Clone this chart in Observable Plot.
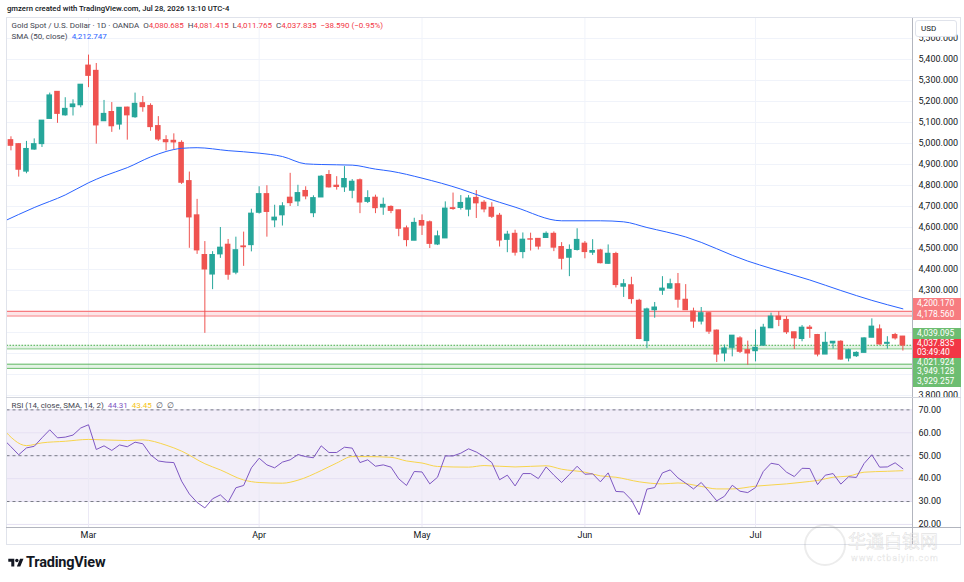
<!DOCTYPE html>
<html><head><meta charset="utf-8">
<script src="https://cdn.jsdelivr.net/npm/d3@7"></script>
<script src="https://cdn.jsdelivr.net/npm/@observablehq/plot@0.6"></script>
<style>
html,body{margin:0;padding:0;background:#fff;}
#root{position:relative;width:964px;height:582px;overflow:hidden;font-family:Roboto,"Liberation Sans",sans-serif;color:#131722;background:#fff;}
.a{position:absolute;white-space:nowrap;line-height:1;}
#price,#rsi{position:absolute;left:0;}
#price{top:17px;} #rsi{top:397px;}
svg{display:block;}
.tag{position:absolute;left:913px;width:48px;color:#fff;font-size:8.5px;padding-left:4px;box-sizing:border-box;display:flex;flex-direction:column;justify-content:center;line-height:1.1;}
</style></head><body>
<div id="root">
 <div id="price"></div>
 <div id="rsi"></div>
 <div id="overlay"></div>
</div>
<script>
// ---------- data ----------
const monthLabels = ["Mar","Apr","May","Jun","Jul"];
const monthIdx = [10,32,53,74,96];

const open = [5016,4997,4866,4971,4997,5117,5246,5134,5173,5182,
5371,5346,5106,5150,5090,5171,5125,5192,5179,5083,
5016,5013,5003,4821,4658,4469,4376,4472,4518,4385,
4510,4516,4670,4759,4634,4658,4742,4724,4774,4668,
4743,4850,4799,4791,4775,4825,4722,4742,4695,4698,
4682,4596,4537,4631,4625,4519,4548,4692,4693,4685,
4741,4718,4694,4656,4541,4570,4483,4544,4546,4550,
4570,4507,4456,4493,4523,4480,4491,4427,4474,4318,
4325,4251,4059,4206,4299,4309,4330,4256,4200,4152,
4192,4109,4000,4027,4072,4016,4011,4037,4120,4176,
4160,4101,4069,4123,4088,3995,4048,4056,3976,3987,
4003,4075,4115,4046,4088,4080.685];
const high = [5032,4999,5010,5022,5109,5240,5246,5218,5208,5280,
5421,5381,5205,5195,5170,5173,5240,5224,5189,5128,
5037,5046,5013,4864,4734,4533,4485,4600,4543,4554,
4578,4687,4794,4799,4706,4718,4858,4801,4794,4751,
4847,4871,4842,4890,4828,4831,4775,4754,4740,4703,
4682,4607,4644,4660,4631,4583,4722,4764,4752,4752,
4776,4728,4718,4667,4582,4587,4574,4573,4546,4579,
4579,4528,4517,4594,4533,4542,4496,4517,4482,4352,
4363,4258,4216,4243,4366,4354,4381,4328,4216,4219,
4195,4112,4040,4085,4080,4059,4112,4139,4192,4200,
4176,4101,4133,4133,4091,4101,4056,4061,4021,4008,
4075,4165,4136,4080,4096,4081.415];
const low = [4965,4840,4856,4968,4981,5117,5096,5130,5131,5170,
5266,4997,5106,5053,5064,5016,5120,5149,5058,5010,
4965,4971,4805,4501,4472,4096,4304,4453,4349,4375,
4415,4484,4664,4554,4599,4607,4700,4700,4732,4647,
4743,4788,4778,4767,4737,4666,4714,4666,4658,4666,
4556,4508,4537,4562,4500,4514,4548,4682,4683,4651,
4643,4670,4643,4507,4480,4464,4451,4488,4493,4550,
4485,4398,4366,4488,4451,4467,4427,4424,4312,4267,
4235,4066,4024,4168,4277,4305,4216,4206,4120,4136,
4091,3957,3960,3984,4000,3944,3960,4037,4120,4128,
4091,4019,4056,4072,3984,3995,4021,3968,3960,3981,
4003,4075,4040,4021,4064,4011.765];
const close = [4989,4875,4974,4997,5109,5229,5141,5165,5186,5280,
5322,5086,5141,5082,5170,5134,5189,5173,5078,5019,
5006,5005,4813,4648,4491,4400,4469,4504,4375,4492,
4506,4666,4759,4674,4647,4701,4716,4764,4748,4740,
4842,4791,4793,4831,4818,4719,4740,4692,4708,4679,
4594,4540,4622,4609,4522,4558,4690,4688,4717,4738,
4715,4686,4651,4538,4566,4480,4542,4542,4509,4570,
4504,4451,4493,4541,4483,4488,4430,4475,4326,4330,
4259,4069,4210,4219,4309,4330,4256,4206,4152,4192,
4104,3995,4024,4085,4008,4000,4027,4123,4176,4160,
4101,4072,4123,4117,3995,4051,4056,3971,4016,4003,
4072,4128,4043,4051,4072,4037.835];

// SMA(50) read at sample bars
const smaIdx = [-1,3,7,10,12,15,18,20,22,24,28,32,35,38,40,44,47,49,53,58,61,65,71,76,79,82,87,95,98,103,107,111,115];
const smaVal = [4628,4695,4755,4813,4845,4885,4936,4962,4977,4980,4966,4954,4938,4903,4900,4897,4878,4868,4835,4783,4744,4697,4632,4632,4627,4600,4555,4440,4405,4350,4300,4253,4212.747];

// RSI(14) values, first value belongs to bar -1 (left edge)
const rsiFirstIdx = -1;
const rsiVal = [57.3,53.9,50.4,53.4,54.1,57.8,61.3,57.8,58.1,59.0,62.1,
63.5,52.7,54.3,52.3,54.7,53.9,55.9,55.2,50.4,47.7,
47.2,47.0,38.9,33.3,29.6,27.2,31.2,32.9,29.7,36.0,
37.0,44.7,48.9,46.0,44.7,47.2,48.2,50.5,49.6,49.1,
54.3,51.4,51.4,53.7,53.3,47.0,48.2,45.4,46.0,45.0,
39.9,37.0,43.1,42.9,37.7,40.6,49.9,49.9,51.1,53.0,
51.6,49.6,47.0,39.5,41.5,36.8,42.2,42.2,40.0,45.1,
41.5,38.3,41.8,45.4,41.9,42.1,38.6,42.5,34.4,34.2,
30.7,24.2,35.4,36.1,42.5,43.8,40.3,38.0,35.5,38.3,
34.4,30.3,32.3,37.1,34.5,33.9,36.1,43.1,46.7,46.1,
42.8,40.9,44.5,44.4,37.4,41.5,42.2,37.6,40.8,40.5,
46.6,50.4,45.0,45.1,46.9,44.31];
const rsiSmaIdx = [-1,2,4,7,10,15,17,20,22,25,27,30,32,35,37,40,42,44,46,49,51,53,55,59,61,65,69,71,74,76,78,81,84,86,89,91,93,96,100,102,104,106,108,110,113,115];
const rsiSmaVal = [61.5,54.4,55.6,56.3,57.1,56.6,56.9,54.6,52.0,46.5,43.8,39.4,38.3,38.0,39.3,43.5,46.8,49.6,49.6,49.3,47.7,46.8,45.3,45.0,45.7,45.1,45.6,44.1,42.8,41.2,40.6,38.6,37.7,38.1,36.6,35.5,35.5,36.7,37.7,38.4,39.2,40.6,41.1,42.8,43.2,43.45];

const priceTicks = [3800,3900,4000,4100,4200,4300,4400,4500,4600,4700,4800,4900,5000,5100,5200,5300,5400,5500];
const rsiTicks = [20,30,40,50,60,70];
const rsiBands = [70,50,30];

const redZone = [4178.560, 4200.170];
const greenZone1 = [4021.924, 4039.095];
const greenZone2 = [3929.257, 3949.128];
const lastPrice = 4037.835;

// ---------- layout ----------
const FONT = 'Roboto, "Liberation Sans", sans-serif';
const UP = "#26a69a", DOWN = "#ef5350";
const W = 964, LEFT = 6.5, RIGHT = 912, PRICE_H = 380;
const xDomain = [-0.51, 116.24];
const priceDomain = [3790.5, 5600];
const rsiDomain = [18.66, 75.4];

const candles = open.map((o, i) => ({i, o, h: high[i], l: low[i], c: close[i]}));
const col = d => d.c >= d.o ? UP : DOWN;
const sma = smaIdx.map((i, k) => ({i, v: smaVal[k]}));
const rsi = rsiVal.map((v, k) => ({i: k + rsiFirstIdx, v}));
const rsiSma = rsiSmaIdx.map((i, k) => ({i, v: rsiSmaVal[k]}));
const fmt3 = d3.format(",.3f");

// tags drawn on the price axis (offsets are label placement only)
const tags = [
  {v: redZone[1], bg: "#f77c80", dy: -7.2, h: 11},
  {v: redZone[0], bg: "#f77c80", dy: -0.9, h: 10.8},
  {v: greenZone1[1], bg: "#6dbd71", dy: -11.2, h: 10.8},
  {v: lastPrice, bg: "#f23645", dy: 3.3, h: 18.7, extra: "03:49:40"},
  {v: greenZone1[0], bg: "#6dbd71", dy: 13.9, h: 9.6},
  {v: greenZone2[1], bg: "#6dbd71", dy: 7.8, h: 9.2},
  {v: greenZone2[0], bg: "#6dbd71", dy: 13.4, h: 10.8}
];
// y scale (same as plot) used to hide axis labels that sit under the tags
const yPix = d3.scaleLinear().domain(priceDomain).range([PRICE_H, 0]);
const tagSpans = tags.map(t => { const c = yPix(t.v) + t.dy; return [c - t.h / 2 - 3, c + t.h / 2 + 3]; });
const axisTicks = priceTicks.filter(p => !tagSpans.some(([a, b]) => yPix(p) > a && yPix(p) < b));

const zone = (z, fill, op) => Plot.rect([z], {x1: xDomain[0], x2: xDomain[1], y1: d => d[0], y2: d => d[1], fill, fillOpacity: op});

const priceChart = Plot.plot({
  width: W, height: PRICE_H,
  marginLeft: LEFT, marginRight: W - RIGHT, marginTop: 0, marginBottom: 0,
  x: {domain: xDomain, axis: null},
  y: {domain: priceDomain},
  color: {type: "identity"},
  style: {fontFamily: FONT, fontSize: "9px", overflow: "hidden", background: "transparent"},
  marks: [
    Plot.ruleY(priceTicks, {stroke: "#f0f3fa"}),
    Plot.ruleX(monthIdx, {stroke: "#f0f3fa"}),
    zone(redZone, "#f23645", 0.13),
    zone(greenZone1, "#4caf50", 0.15),
    zone(greenZone2, "#4caf50", 0.15),
    Plot.ruleY(redZone, {stroke: "#f77c80", strokeWidth: 1.2}),
    Plot.ruleY([greenZone1[1]], {stroke: "#4caf50", strokeDasharray: "1.5,1.5", strokeWidth: 1}),
    Plot.ruleY([greenZone1[0]], {stroke: "#66bb6a", strokeOpacity: 0.8}),
    Plot.ruleY(greenZone2, {stroke: "#4caf50", strokeOpacity: 0.85}),
    Plot.ruleX(candles, {x: "i", y1: "l", y2: "h", stroke: col, strokeWidth: 1}),
    Plot.rect(candles, {x1: d => d.i - 0.36, x2: d => d.i + 0.36, y1: "o", y2: "c", fill: col, insetTop: -0.5, insetBottom: -0.5}),
    Plot.line(sma, {x: "i", y: "v", stroke: "#2962ff", strokeWidth: 1, curve: "monotone-x", clip: true}),
    Plot.ruleX([xDomain[1]], {stroke: "#b2b5be"}),
    Plot.axisY(axisTicks, {anchor: "right", tickSize: 0, tickPadding: 6, tickFormat: fmt3, fill: "#131722", label: null})
  ]
});
document.getElementById("price").appendChild(priceChart);

const rsiChart = Plot.plot({
  width: W, height: 148,
  marginLeft: LEFT, marginRight: W - RIGHT, marginTop: 0, marginBottom: 18,
  x: {domain: xDomain},
  y: {domain: rsiDomain},
  style: {fontFamily: FONT, fontSize: "9px", overflow: "hidden", background: "transparent"},
  marks: [
    Plot.rect([[30, 70]], {x1: xDomain[0], x2: xDomain[1], y1: d => d[0], y2: d => d[1], fill: "#7e57c2", fillOpacity: 0.1}),
    Plot.ruleY(rsiTicks, {stroke: "#e6e1f3"}),
    Plot.ruleX(monthIdx, {stroke: "#ebe9f5"}),
    Plot.ruleY(rsiBands, {stroke: "#787b86", strokeDasharray: "3,3"}),
    Plot.line(rsiSma, {x: "i", y: "v", stroke: "#f7d44c", strokeWidth: 1, curve: "monotone-x", clip: true}),
    Plot.line(rsi, {x: "i", y: "v", stroke: "#7e57c2", strokeWidth: 1, clip: true}),
    Plot.ruleX([xDomain[1]], {stroke: "#b2b5be"}),
    Plot.axisY(rsiTicks, {anchor: "right", tickSize: 0, tickPadding: 6, tickFormat: d3.format(".2f"), fill: "#131722", label: null}),
    Plot.axisX(monthIdx, {tickSize: 0, tickPadding: 4, tickFormat: d => monthLabels[monthIdx.indexOf(d)], fill: "#131722", label: null})
  ]
});
document.getElementById("rsi").appendChild(rsiChart);

// ---------- overlays ----------
const ov = document.getElementById("overlay");
function add(html, style) {
  const d = document.createElement("div");
  d.className = "a";
  d.innerHTML = html;
  Object.assign(d.style, style);
  ov.appendChild(d);
  return d;
}
// frame and separators
add("", {left: "6px", top: "17px", width: "955px", height: "528px", border: "1px solid #e0e3eb", boxSizing: "border-box"});
add("", {left: "6px", top: "396.5px", width: "955px", height: "1px", background: "#d1d4dc"});
add("", {left: "6px", top: "526.5px", width: "955px", height: "1px", background: "#b2b5be"});
add("", {left: "912px", top: "527px", width: "1px", height: "17px", background: "#b2b5be"});

// header
add("gmzern created with TradingView.com, Jul 28, 2026 13:10 UTC-4", {left: "7px", top: "5px", fontSize: "7.7px", fontWeight: "500"});
const R = "#f23645", G = "#434651";
const seg = (t, c) => `<span style="color:${c}">${t}</span>`;
add(seg("Gold Spot / U.S. Dollar · 1D · OANDA", G) + "&nbsp;&nbsp;" +
    seg("O", G) + seg(fmt3(open[open.length-1]), R) + "&nbsp;&nbsp;" +
    seg("H", G) + seg(fmt3(high[high.length-1]), R) + "&nbsp;&nbsp;" +
    seg("L", G) + seg(fmt3(low[low.length-1]), R) + "&nbsp;&nbsp;" +
    seg("C", G) + seg(fmt3(close[close.length-1]), R) + "&nbsp;&nbsp;" +
    seg("−38.590 (−0.95%)", R),
    {left: "11.5px", top: "22px", fontSize: "8px"});
add(seg("SMA (50, close)", G) + "&nbsp;&nbsp;" + seg(fmt3(smaVal[smaVal.length-1]), "#2962ff"),
    {left: "11.5px", top: "33px", fontSize: "8px"});
add(seg("RSI (14, close, SMA, 14, 2)", G) + "&nbsp;&nbsp;" + seg(rsiVal[rsiVal.length-1].toFixed(2), "#7e57c2") + "&nbsp;&nbsp;" +
    seg(rsiSmaVal[rsiSmaVal.length-1].toFixed(2), "#f5c518") + "&nbsp;&nbsp;" + seg("∅&nbsp;&nbsp;∅", G),
    {left: "11.5px", top: "402px", fontSize: "8px"});

// USD box
add("USD", {left: "915px", top: "20px", width: "42px", height: "17px", border: "1px solid #e0e3eb", borderRadius: "3px", background: "#fff", fontSize: "8px", paddingLeft: "5px", paddingTop: "4px", boxSizing: "border-box"});

// price tags on the axis, placed with the plot's own y scale
const ys = priceChart.scale("y");
for (const t of tags) {
  const c = 17 + ys.apply(t.v) + t.dy;
  const d = document.createElement("div");
  d.className = "tag";
  d.style.top = (c - t.h / 2) + "px";
  d.style.height = t.h + "px";
  d.style.background = t.bg;
  d.innerHTML = `<div>${fmt3(t.v)}</div>` + (t.extra ? `<div>${t.extra}</div>` : "");
  ov.appendChild(d);
}

// TradingView logo
add(`<svg width="16" height="12" viewBox="0 0 36 28"><path fill="#131722" d="M14 22H7V11H0V4h14v18zM28 22h-8l7.5-18h8L28 22z"/><circle fill="#131722" cx="20" cy="8" r="4"/></svg>`,
    {left: "8px", top: "557px"});
add("TradingView", {left: "26px", top: "555.5px", fontSize: "14.5px", fontWeight: "700", letterSpacing: "-0.2px"});

// faint watermark
add("", {left: "804px", top: "524px", width: "38px", height: "38px", borderRadius: "50%", border: "2px solid rgba(170,170,170,0.22)"});
add("华通白银网", {left: "848px", top: "531px", fontSize: "18px", fontFamily: '"Noto Sans CJK SC", sans-serif', color: "rgba(255,255,255,0.45)", webkitTextStroke: "0.7px rgba(160,160,160,0.3)"});
add("www.ctbaiyin.com", {left: "851px", top: "554px", fontSize: "9px", letterSpacing: "0.9px", color: "rgba(255,255,255,0.45)", webkitTextStroke: "0.4px rgba(160,160,160,0.3)"});
</script>
</body></html>
